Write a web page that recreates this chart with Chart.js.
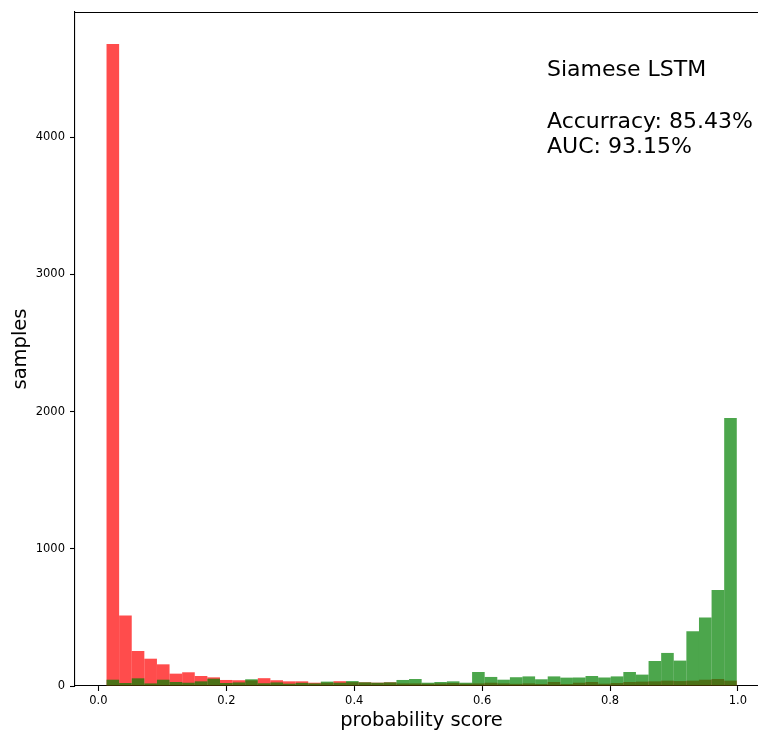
<!DOCTYPE html>
<html><head><meta charset="utf-8">
<script src="https://cdn.jsdelivr.net/npm/chart.js@4.4.0/dist/chart.umd.min.js"></script>
<style>
html,body{margin:0;padding:0;background:#fff;overflow:hidden;width:758px;height:731px;}
#wrap{position:absolute;left:0;top:0;width:770px;height:731px;}
canvas{display:block;}
</style></head><body>
<div id="wrap"><canvas id="c" width="770" height="731"></canvas></div>
<script>
// Histogram bins (50 equal bins between min and max score)
const binStart = 0.0127;
const binWidth = 0.01971;
// Counts per bin
const redCounts = [4678, 513, 255, 199, 158, 90, 100, 73, 63, 44,
                   42, 41, 57, 42, 34, 34, 24, 24, 35, 28,
                   27, 24, 27, 19, 19, 17, 19, 22, 17, 19,
                   24, 19, 16, 19, 15, 29, 15, 24, 29, 17,
                   22, 29, 32, 34, 39, 36, 39, 46, 51, 39];
const greenCounts = [46, 22, 56, 19, 46, 29, 24, 34, 53, 22,
                     26, 49, 20, 26, 17, 23, 19, 32, 24, 36,
                     27, 24, 27, 44, 51, 24, 29, 34, 24, 102,
                     66, 46, 64, 70, 49, 70, 61, 62, 73, 62,
                     70, 102, 83, 182, 241, 185, 399, 500, 700, 1954];
const xTickValues = [0.0, 0.2, 0.4, 0.6, 0.8, 1.0];
const yTickValues = [0, 1000, 2000, 3000, 4000];
const annotationLines = ['Siamese LSTM', 'Accurracy: 85.43%', 'AUC: 93.15%'];

const binCenters = redCounts.map((_, i) => binStart + binWidth * (i + 0.5));
const FONT = '"DejaVu Sans", "Liberation Sans", sans-serif';

const boxPlugin = {
  id: 'boxAndText',
  afterDraw(chart) {
    const {ctx, chartArea: a} = chart;
    ctx.save();
    ctx.strokeStyle = '#000';
    ctx.lineWidth = 1.1;
    ctx.beginPath();
    ctx.moveTo(a.left, a.top + 0.5);
    ctx.lineTo(a.right, a.top + 0.5);
    ctx.lineTo(a.right, a.bottom);
    ctx.stroke();
    ctx.fillStyle = '#000';
    ctx.font = '22px ' + FONT;
    ctx.textAlign = 'left';
    ctx.textBaseline = 'alphabetic';
    const baselines = [75.5, 127.7, 152.7];
    annotationLines.forEach((t, i) => ctx.fillText(t, 547, baselines[i]));
    ctx.restore();
  }
};

new Chart(document.getElementById('c'), {
  type: 'bar',
  data: {
    datasets: [
      {
        label: 'negative',
        data: binCenters.map((x, i) => ({x, y: redCounts[i]})),
        backgroundColor: 'rgba(255,0,0,0.7)',
        borderWidth: 0,
        inflateAmount: 0,
        grouped: false,
        barPercentage: 1,
        categoryPercentage: 1,
        order: 2
      },
      {
        label: 'positive',
        data: binCenters.map((x, i) => ({x, y: greenCounts[i]})),
        backgroundColor: 'rgba(0,128,0,0.7)',
        borderWidth: 0,
        inflateAmount: 0,
        grouped: false,
        barPercentage: 1,
        categoryPercentage: 1,
        order: 1
      }
    ]
  },
  options: {
    responsive: false,
    animation: false,
    devicePixelRatio: 1,
    layout: {padding: {top: 12, right: 2, left: 0, bottom: 0}},
    plugins: {legend: {display: false}, tooltip: {enabled: false}},
    scales: {
      x: {
        type: 'linear',
        min: -0.0366,
        max: 1.047,
        offset: false,
        grid: {display: true, drawOnChartArea: false, drawTicks: true, tickLength: 5, tickColor: '#000', tickWidth: 1.1, offset: false},
        border: {display: true, color: '#000', width: 1.1},
        ticks: {color: '#000', font: {family: FONT, size: 11.5}, padding: 3, autoSkip: false, maxRotation: 0,
                callback: v => Number(v).toFixed(1)},
        afterBuildTicks: s => { s.ticks = xTickValues.map(v => ({value: v})); },
        afterFit: s => { s.height = 45; },
        title: {display: true, text: 'probability score', color: '#000', font: {family: FONT, size: 19.5, lineHeight: 1.0}, padding: {top: 0, bottom: 0}}
      },
      y: {
        type: 'linear',
        min: 0,
        max: 4912,
        grid: {display: true, drawOnChartArea: false, drawTicks: true, tickLength: 5, tickColor: '#000', tickWidth: 1.1},
        border: {display: true, color: '#000', width: 1.1},
        ticks: {color: '#000', font: {family: FONT, size: 11.5}, padding: 5, autoSkip: false,
                callback: v => String(v)},
        afterBuildTicks: s => { s.ticks = yTickValues.map(v => ({value: v})); },
        afterFit: s => { s.width = 75; },
        title: {display: true, text: 'samples', color: '#000', font: {family: FONT, size: 19.5}, padding: {top: 9, bottom: 0}}
      }
    }
  },
  plugins: [boxPlugin]
});
</script>
</body></html>
